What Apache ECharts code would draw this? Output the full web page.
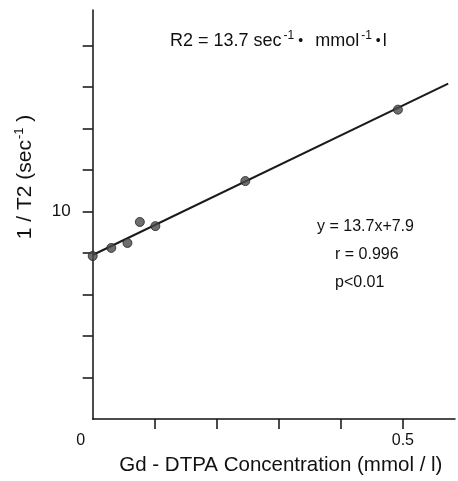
<!DOCTYPE html>
<html><head><meta charset="utf-8">
<script src="https://cdn.jsdelivr.net/npm/echarts@6/dist/echarts.min.js"></script>
<style>html,body{margin:0;padding:0;background:#fff}#c{width:458px;height:481px}</style>
</head><body><div id="c"></div>
<script>
// Data
const concentration = [0.0, 0.03, 0.056, 0.076, 0.101, 0.246, 0.492];
const relaxRate = [7.85, 8.24, 8.48, 9.49, 9.29, 11.46, 14.9];
const fitX = [0.0, 0.573];
const fitY = [7.9, 16.15];
const yTicks = [2, 4, 6, 8, 10, 12, 14, 16, 18];
const yLabels = [10];
const xTicks = [0.1, 0.2, 0.3, 0.4, 0.5];
const xLabels = [0, 0.5];

const F = '"Liberation Sans", Arial, Helvetica, sans-serif';
const chart = echarts.init(document.getElementById('c'));
chart.setOption({
  animation: false,
  backgroundColor: '#fff',
  grid: { left: 92.7, right: 3, top: 10, bottom: 61.5 },
  xAxis: {
    type: 'value', min: 0, max: 0.584, interval: 0.1,
    axisLine: { lineStyle: { color: '#111', width: 1.5 } },
    axisTick: { show: true, length: 10, customValues: xTicks, lineStyle: { color: '#111', width: 1.5 } },
    axisLabel: { customValues: xLabels, color: '#111', fontFamily: F, fontSize: 16, margin: 14,
      formatter: v => (v === 0 ? '{z|0}' : String(v)),
      rich: { z: { fontFamily: F, fontSize: 16, color: '#111', padding: [0, 24, 0, 0] } } },
    splitLine: { show: false },
    name: 'Gd - DTPA Concentration (mmol / l)', nameLocation: 'middle', nameGap: 36,
    nameTextStyle: { color: '#111', fontFamily: F, fontSize: 20.5, padding: [0, 0, 0, 14] }
  },
  yAxis: {
    type: 'value', min: 0, max: 19.7, interval: 2,
    axisLine: { lineStyle: { color: '#111', width: 1.5 } },
    axisTick: { show: true, length: 10, customValues: yTicks, lineStyle: { color: '#111', width: 1.5 } },
    axisLabel: { customValues: yLabels, color: '#111', fontFamily: F, fontSize: 17, margin: 22 },
    splitLine: { show: false }
  },
  series: [
    {
      type: 'line', data: fitX.map((x, i) => [x, fitY[i]]), symbol: 'none',
      lineStyle: { color: '#1a1a1a', width: 2 }, z: 2
    },
    {
      type: 'scatter', data: concentration.map((x, i) => [x, relaxRate[i]]),
      symbolSize: 9, itemStyle: { color: '#4a4a4a', borderColor: '#222', borderWidth: 1 }, z: 3
    }
  ],
  graphic: [
    { type: 'text', x: 25, y: 177, rotation: Math.PI / 2, style: {
      text: '1 / T2 (sec{sup|-1} )', fill: '#111', font: '21px ' + F, align: 'center', verticalAlign: 'middle',
      rich: { sup: { fontSize: 13, fontFamily: F, padding: [0, 0, 11, 1], fill: '#111' } } } },
    { type: 'text', left: 170, top: 30, style: {
      text: 'R2 = 13.7 sec{sup|-1}{b|•}  mmol{sup|-1}{b|•}l', fill: '#111', font: '18px ' + F,
      rich: { sup: { fontSize: 12, fontFamily: F, padding: [0, 2, 10, 2], fill: '#111' },
              b: { fontSize: 14, fontFamily: F, padding: [0, 2, 0, 2], fill: '#111' } } } },
    { type: 'text', left: 317, top: 219, style: { text: 'y = 13.7x+7.9', fill: '#111', font: '16px ' + F } },
    { type: 'text', left: 335, top: 247, style: { text: 'r = 0.996', fill: '#111', font: '16px ' + F } },
    { type: 'text', left: 335, top: 275, style: { text: 'p<0.01', fill: '#111', font: '16px ' + F } }
  ]
});
</script></body></html>
